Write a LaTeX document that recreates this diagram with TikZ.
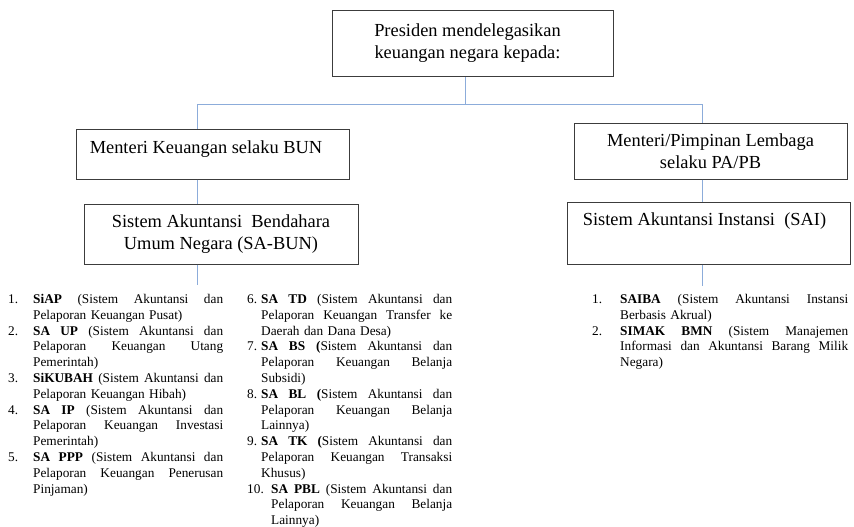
\documentclass[tikz,border=0pt]{standalone}
\usepackage{fontspec}
\setmainfont{Liberation Serif}
\definecolor{connblue}{RGB}{140,172,218}
\definecolor{boxedge}{RGB}{60,60,60}
\newlength{\numw}\newlength{\colw}
\newcommand{\listjust}[2]{\noindent\makebox[\numw][l]{#1}\hbox to \colw{\spaceskip=0.25em plus 1fil\relax #2}\par}
\newcommand{\listlast}[2]{\noindent\makebox[\numw][l]{#1}#2\par}
\tikzset{
  boxnode/.style={draw=boxedge, line width=1pt, inner sep=0pt, rectangle},
  boxtxt/.style={font=\fontsize{18.4}{22}\selectfont, align=center, inner sep=0pt},
  listnode/.style={inner sep=0pt, anchor=north west, align=left, font=\fontsize{13.3}{15.8}\selectfont},
  connline/.style={draw=connblue, line width=1pt}
}
\begin{document}
\begin{tikzpicture}[x=1pt,y=-1pt]
\fill[white] (0,0) rectangle (854,527);
\useasboundingbox (0,0) rectangle (854,527);

% boxes
\node[boxnode, minimum width=281pt, minimum height=66pt] (pres) at (472.5,44) {};
\node[boxtxt] (prestxt) at (467.5,43.5) {Presiden mendelegasikan\\keuangan negara kepada:};
\node[boxnode, minimum width=273pt, minimum height=50pt] (bun) at (212.5,154) {};
\node[boxtxt] (buntxt) at (206,149) {Menteri Keuangan selaku BUN};
\node[boxnode, boxtxt, minimum width=274pt, minimum height=60pt] (sabun) at (221,234)
  {Sistem Akuntansi\ \ Bendahara\\Umum Negara (SA-BUN)};
\node[boxnode, boxtxt, minimum width=273pt, minimum height=56pt] (papb) at (710.5,151)
  {Menteri/Pimpinan Lembaga\\selaku PA/PB};
\node[boxnode, minimum width=283pt, minimum height=62pt] (sai) at (708.5,233) {};
\node[boxtxt] (saitxt) at (704.5,221) {Sistem Akuntansi Instansi\ \ (SAI)};

% connectors
\coordinate (jC) at (465,104);
\coordinate (jL) at (197,104);
\coordinate (jR) at (702,104);
\coordinate (endL) at (197,285);
\coordinate (endR) at (702,286);
\draw[connline] (jC |- pres.south) -- (jC);
\draw[connline] (jL) -- (jR);
\draw[connline] (jL) -- (jL |- bun.north);
\draw[connline] (jL |- bun.south) -- (jL |- sabun.north);
\draw[connline] (jL |- sabun.south) -- (endL);
\draw[connline] (jR) -- (jR |- papb.north);
\draw[connline] (jR |- papb.south) -- (jR |- sai.north);
\draw[connline] (jR |- sai.south) -- (endR);

% lists
\node[listnode, text width=215pt] (listA) at (8,294) {%
\setlength{\numw}{25pt}\setlength{\colw}{190pt}%
\listjust{1.}{\textbf{SiAP} (Sistem Akuntansi dan}
\listlast{}{Pelaporan Keuangan Pusat)}
\listjust{2.}{\textbf{SA UP} (Sistem Akuntansi dan}
\listjust{}{Pelaporan Keuangan Utang}
\listlast{}{Pemerintah)}
\listjust{3.}{\textbf{SiKUBAH} (Sistem Akuntansi dan}
\listlast{}{Pelaporan Keuangan Hibah)}
\listjust{4.}{\textbf{SA IP} (Sistem Akuntansi dan}
\listjust{}{Pelaporan Keuangan Investasi}
\listlast{}{Pemerintah)}
\listjust{5.}{\textbf{SA PPP} (Sistem Akuntansi dan}
\listjust{}{Pelaporan Keuangan Penerusan}
\listlast{}{Pinjaman)}};

\node[listnode, text width=206pt] (listB) at (247,294) {%
\setlength{\numw}{14pt}\setlength{\colw}{191pt}%
\listjust{6.}{\textbf{SA TD} (Sistem Akuntansi dan}
\listjust{}{Pelaporan Keuangan Transfer ke}
\listlast{}{Daerah dan Dana Desa)}
\listjust{7.}{\textbf{SA BS (}Sistem Akuntansi dan}
\listjust{}{Pelaporan Keuangan Belanja}
\listlast{}{Subsidi)}
\listjust{8.}{\textbf{SA BL (}Sistem Akuntansi dan}
\listjust{}{Pelaporan Keuangan Belanja}
\listlast{}{Lainnya)}
\listjust{9.}{\textbf{SA TK (}Sistem Akuntansi dan}
\listjust{}{Pelaporan Keuangan Transaksi}
\listlast{}{Khusus)}
\setlength{\numw}{24pt}\setlength{\colw}{181pt}%
\listjust{10.}{\textbf{SA PBL} (Sistem Akuntansi dan}
\listjust{}{Pelaporan Keuangan Belanja}
\listlast{}{Lainnya)}};

\node[listnode, text width=257pt] (listC) at (592,294) {%
\setlength{\numw}{28pt}\setlength{\colw}{228pt}%
\listjust{1.}{\textbf{SAIBA} (Sistem Akuntansi Instansi}
\listlast{}{Berbasis Akrual)}
\listjust{2.}{\textbf{SIMAK BMN} (Sistem Manajemen}
\listjust{}{Informasi dan Akuntansi Barang Milik}
\listlast{}{Negara)}};
\end{tikzpicture}
\end{document}
